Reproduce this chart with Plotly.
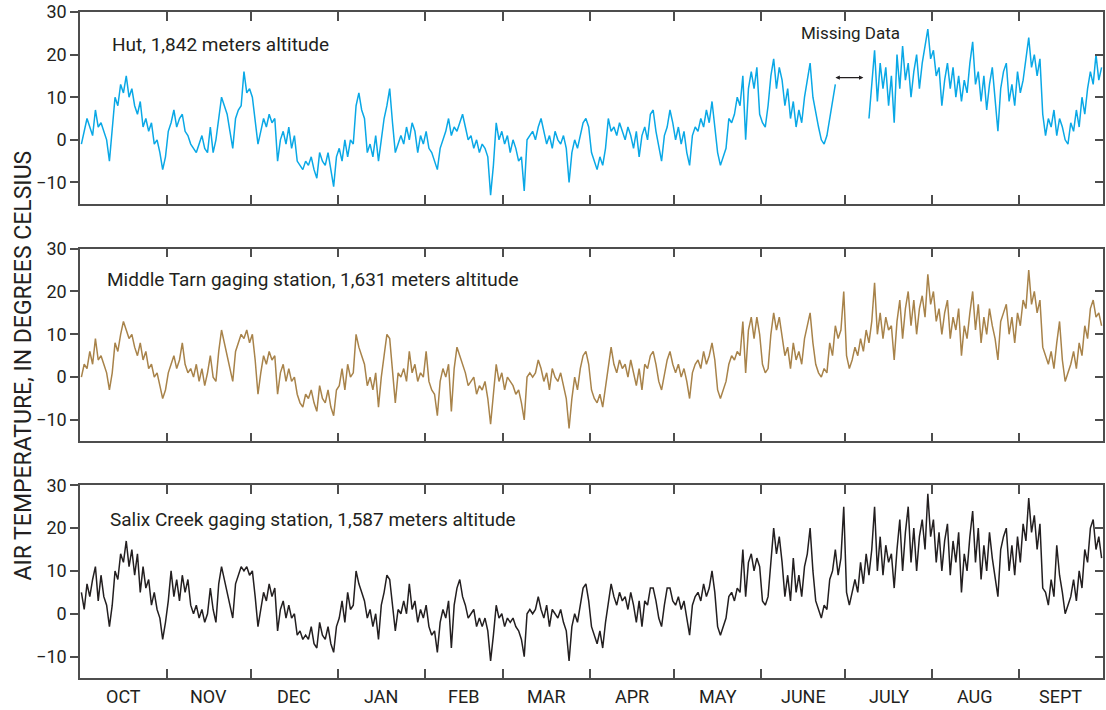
import numpy as np
import plotly.graph_objects as go

# ---------------- data (daily air temperature, deg C, Oct 1 .. Sep 30) ----------------
month_names = ["OCT", "NOV", "DEC", "JAN", "FEB", "MAR", "APR", "MAY", "JUNE", "JULY", "AUG", "SEPT"]
month_days = [31, 30, 31, 31, 28, 31, 30, 31, 30, 31, 31, 30]
ytick_vals = [-10, 0, 10, 20, 30]

hut = [
    -1, 2, 5, 3, 1, 7, 3, 4, 2, 0,
    -5, 2, 10, 8, 13, 11, 15, 10, 12, 8,
    6, 9, 3, 5, 2, 4, -1, 0, -3, -7,
    -4, 2, 4, 7, 3, 5, 6, 2, 1, -1,
    -2, -3, -1, 1, -2, -3, 3, -3, 0, 5,
    10, 8, 6, 2, -2, 5, 7, 8, 16, 11,
    12, 10, 5, -1, 2, 5, 3, 6, 4, 5,
    -5, 0, 2, -1, 3, -2, 1, -5, -6, -7,
    -5, -6, -4, -7, -9, -3, -5, -6, -3, -7,
    -11, -4, -2, -5, 0, -4, 0, -1, 8, 11,
    7, 5, -3, -1, -4, 1, -5, 0, 5, 8,
    12, 4, -3, -1, 1, -1, 3, 0, 4, 2,
    -3, 1, -1, 2, -2, -3, -5, -7, -2, 0,
    2, 5, 1, 3, 2, 4, 6, 3, 0, 1,
    -2, 0, -3, -1, -2, -4, -13, -6, 4, 0,
    2, -1, 1, -3, 0, -2, -5, -4, -12, 0,
    1, 2, 0, 3, 5, 2, -1, 1, -2, 2,
    0, -1, 1, -2, -10, -3, 0, -2, 1, 4,
    5, 3, -3, -5, -7, -4, -6, -2, 5, 2,
    3, 1, 4, 2, 0, 3, 1, -2, 2, -4,
    1, 3, 0, 6, 7, 2, -2, -5, 1, 3,
    7, 4, 0, 3, -1, 2, -3, -6, 1, 3,
    2, 5, 3, 7, 4, 9, 3, -3, -6, -4,
    -2, 5, 4, 6, 10, 8, 15, 0, 12, 16,
    12, 17, 6, 4, 3, 8, 15, 19, 12, 17,
    14, 8, 12, 5, 9, 3, 7, 4, 10, 14,
    18, 10, 6, 3, 0, -1, 1, 5, 9, 13,
    None, None, None, None, None, None, None, None, None, None,
    None, 5, 14, 21, 9, 18, 12, 17, 8, 15,
    4, 20, 12, 22, 14, 18, 10, 16, 20, 12,
    18, 22, 26, 19, 21, 15, 17, 8, 14, 18,
    12, 17, 10, 15, 9, 14, 11, 18, 23, 13,
    16, 9, 15, 7, 13, 17, 10, 2, 12, 16,
    18, 9, 13, 8, 16, 11, 14, 19, 24, 17,
    20, 15, 19, 6, 1, 5, 3, 7, 1, 5,
    3, 0, -1, 4, 2, 7, 3, 10, 6, 12,
    16, 13, 20, 14, 17,
]

middle_tarn = [
    0, 3, 2, 6, 3, 9, 4, 5, 3, 1,
    -3, 1, 8, 6, 10, 13, 11, 9, 10, 7,
    5, 8, 4, 6, 2, 3, 0, 1, -2, -5,
    -3, 1, 3, 5, 2, 4, 8, 3, 1, 2,
    0, 3, -1, 2, -2, 1, 5, 0, -1, 6,
    11, 8, 5, 2, -1, 6, 8, 10, 9, 11,
    8, 10, 4, -4, 1, 5, 3, 6, 4, 5,
    -4, 1, 3, -1, 2, -1, 0, -4, -6, -7,
    -4, -5, -3, -6, -8, -2, -5, -6, -3, -7,
    -9, -3, -2, 2, -3, 3, 0, 1, 10, 7,
    5, 3, -2, 0, -3, 1, -7, 0, 5, 10,
    9, 2, -6, 1, 0, 2, -1, 6, 1, 3,
    -1, 1, 0, 6, -1, -3, -4, -9, -1, 2,
    0, 3, -8, 2, 7, 5, 3, 1, -2, -1,
    0, -4, -2, -3, -1, -5, -11, -4, 3, -1,
    1, -3, 0, -1, -2, -4, -3, -6, -10, 0,
    1, 0, 1, 4, 2, -1, 1, -3, 2, 0,
    -1, 1, -2, -5, -12, -5, 0, -3, 2, 5,
    6, 3, -3, -5, -6, -4, -7, -2, 3, 7,
    3, 1, 4, 2, 3, 0, 4, 1, -2, 2,
    -3, 3, 2, 5, 6, 3, -1, -3, 1, 4,
    6, 3, 1, 3, 0, 2, -1, -5, 1, 3,
    4, 2, 6, 3, 5, 8, 4, -3, -5, -3,
    -1, 3, 5, 4, 6, 5, 13, 1, 11, 14,
    9, 14, 10, 3, 1, 2, 10, 15, 11, 14,
    10, 5, 7, 2, 8, 4, 6, 3, 9, 12,
    15, 8, 3, 1, 0, 2, 1, 8, 5, 12,
    9, 11, 20, 5, 2, 4, 7, 5, 9, 6,
    11, 8, 13, 22, 10, 15, 9, 14, 11, 12,
    4, 13, 18, 9, 16, 20, 12, 18, 10, 16,
    19, 14, 24, 17, 20, 13, 16, 10, 15, 18,
    9, 14, 11, 16, 5, 12, 9, 15, 20, 11,
    17, 8, 14, 10, 16, 12, 9, 4, 13, 15,
    17, 10, 14, 8, 15, 12, 18, 16, 25, 17,
    20, 15, 18, 7, 5, 3, 6, 2, 8, 13,
    4, -1, 1, 3, 6, 2, 8, 5, 12, 9,
    16, 18, 14, 15, 12,
]

salix_creek = [
    5, 1, 7, 4, 8, 11, 3, 9, 4, 2,
    -3, 2, 10, 8, 14, 12, 17, 11, 15, 9,
    14, 5, 11, 6, 8, 2, 5, 1, -1, -6,
    -2, 3, 10, 4, 8, 3, 9, 5, 8, 2,
    0, 2, -1, 1, -2, 0, 6, 1, -2, 7,
    11, 8, 5, 2, -1, 7, 9, 11, 10, 11,
    9, 10, 4, -3, 1, 5, 3, 7, 4, 6,
    -4, 1, 3, -1, 2, -1, 0, -5, -4, -6,
    -5, -6, -3, -7, -8, -2, -5, -6, -3, -7,
    -9, -3, -1, 3, -2, 5, 1, 2, 10, 7,
    5, 3, -1, 1, -3, 0, -6, 2, 5, 9,
    8, 2, -4, 1, 0, 3, 0, 7, 1, 3,
    -2, 1, -1, 2, -3, -5, -4, -9, -2, 1,
    -1, 3, -8, 2, 6, 8, 4, 2, -1, 0,
    1, -3, -1, -3, -1, -4, -11, -5, 2, -1,
    0, -3, -1, -2, -1, -3, -4, -6, -10, 0,
    1, 0, 1, 4, 1, -1, 2, -3, 1, 0,
    -1, 1, -2, -4, -11, -3, 0, -2, 2, 6,
    7, 3, -3, -5, -7, -4, -8, -2, 3, 7,
    4, 2, 5, 3, 4, 1, 5, 2, -2, 3,
    -3, 3, 2, 6, 6, 3, -1, -3, 2, 6,
    6, 3, 2, 4, 1, 3, -1, -5, 2, 4,
    5, 3, 7, 4, 6, 10, 5, -3, -5, -3,
    -1, 4, 5, 3, 6, 5, 15, 4, 12, 14,
    10, 13, 11, 3, 2, 4, 12, 20, 14, 18,
    12, 4, 9, 3, 13, 5, 9, 4, 11, 14,
    20, 10, 3, 1, -1, 2, 1, 8, 10, 15,
    9, 13, 25, 5, 2, 5, 8, 5, 12, 7,
    14, 9, 15, 25, 10, 18, 9, 16, 12, 14,
    6, 15, 22, 10, 19, 25, 12, 20, 10, 18,
    22, 15, 28, 18, 22, 12, 19, 10, 17, 21,
    9, 17, 12, 19, 5, 14, 10, 18, 24, 12,
    20, 8, 16, 10, 19, 13, 9, 4, 15, 18,
    20, 10, 16, 9, 18, 12, 21, 17, 27, 19,
    23, 15, 21, 6, 5, 2, 8, 4, 16, 9,
    5, 0, 2, 4, 8, 3, 10, 6, 15, 12,
    20, 22, 15, 18, 13,
]

station_labels = [
    "Hut, 1,842 meters altitude",
    "Middle Tarn gaging station, 1,631 meters altitude",
    "Salix Creek gaging station, 1,587 meters altitude",
]
missing_label = "Missing Data"
missing_start, missing_end = 269, 280   # day index of gap in Hut record

# ---------------- styling ----------------
FONT = "Liberation Sans Narrow, Arial Narrow, Roboto, sans-serif"
TXT = "#231F20"
AX = "#4D4D4D"
colors = ["#0AA8E6", "#A8834A", "#231F20"]

month_starts = np.concatenate([[0], np.cumsum(month_days)])
month_mid = (month_starts[:-1] + month_starts[1:]) / 2.0
n_days = int(month_starts[-1])

series = [hut, middle_tarn, salix_creek]
days = np.arange(n_days) + 0.5

fig = go.Figure()
for i, s in enumerate(series):
    fig.add_trace(go.Scatter(
        x=days, y=s, mode="lines",
        line=dict(color=colors[i], width=1.5),
        connectgaps=False, showlegend=False,
        xaxis="x" if i == 0 else f"x{i+1}",
        yaxis="y" if i == 0 else f"y{i+1}",
    ))
# empty traces for right-hand tick axes
for i in range(3):
    fig.add_trace(go.Scatter(x=[], y=[], showlegend=False, hoverinfo="skip",
                             xaxis="x" if i == 0 else f"x{i+1}", yaxis=f"y{i+4}"))

H, mt, mb = 710, 11, 32
ph = H - mt - mb
def dom(top_px, bot_px):
    return [(H - mb - bot_px) / ph, (H - mb - top_px) / ph]

domains = [dom(11, 203), dom(248, 441), dom(485, 678)]

layout = dict(
    width=1106, height=H,
    margin=dict(l=80, r=1, t=mt, b=mb),
    paper_bgcolor="white", plot_bgcolor="white",
    font=dict(family=FONT, color=TXT, size=17),
    showlegend=False,
)
for i in range(3):
    xs = "" if i == 0 else str(i + 1)
    ys = "" if i == 0 else str(i + 1)
    layout[f"xaxis{xs}"] = dict(
        domain=[0, 1], anchor=f"y{ys}", range=[0, n_days],
        tickvals=list(month_starts[1:-1]), ticktext=[""] * (len(month_starts) - 2),
        ticks="inside", ticklen=9, tickwidth=1.5, tickcolor=AX,
        showline=True, linecolor=AX, linewidth=1.5, mirror="ticks",
        showgrid=False, zeroline=False, fixedrange=True,
    )
    layout[f"yaxis{ys}"] = dict(
        domain=domains[i], anchor=f"x{xs}", range=[-15, 30],
        tickvals=ytick_vals, ticks="outside", ticklen=8, tickwidth=1.5, tickcolor=AX,
        showline=True, linecolor=AX, linewidth=1.5, mirror=True,
        showgrid=False, zeroline=False, tickfont=dict(size=18, color=TXT),
    )
    layout[f"yaxis{i+4}"] = dict(
        overlaying=f"y{ys}", anchor=f"x{xs}", side="right", range=[-15, 30],
        tickvals=ytick_vals[:-1], ticks="inside", ticklen=8, tickwidth=1.5, tickcolor=AX,
        showticklabels=False, showline=False, showgrid=False, zeroline=False,
    )

fig.update_layout(**layout)

ann = []
label_pos = [(110, 44), (105, 279), (108, 519)]
for lab, (px, py) in zip(station_labels, label_pos):
    ann.append(dict(text=lab, xref="paper", yref="paper",
                    x=(px - 80) / 1025, y=(H - mb - py) / ph,
                    xanchor="left", yanchor="middle", showarrow=False,
                    font=dict(size=19, color=TXT, family=FONT)))
for name, mid in zip(month_names, month_mid):
    ann.append(dict(text=name, xref="x3", yref="paper", x=mid, y=-(697 - (H - mb)) / ph,
                    xanchor="center", yanchor="middle", showarrow=False,
                    font=dict(size=18, color=TXT, family=FONT)))
ann.append(dict(text="AIR TEMPERATURE, IN DEGREES CELSIUS", xref="paper", yref="paper",
                x=(23 - 80) / 1025, y=(H - mb - 365) / ph, textangle=-90,
                xanchor="center", yanchor="middle", showarrow=False,
                font=dict(size=23, color=TXT, family=FONT)))
ann.append(dict(text=missing_label, xref="x", yref="y", x=missing_start - 12.5, y=25,
                xanchor="left", yanchor="middle", showarrow=False,
                font=dict(size=17, color=TXT, family=FONT)))
ann.append(dict(text="", xref="x", yref="y", x=missing_end - 0.5, y=14.6,
                ax=missing_start, ay=14.6, axref="x", ayref="y",
                showarrow=True, arrowhead=2, startarrowhead=2, arrowside="end+start",
                arrowsize=0.8, arrowwidth=1.1, arrowcolor=TXT))
fig.update_layout(annotations=ann)

fig.write_html("out.html")
